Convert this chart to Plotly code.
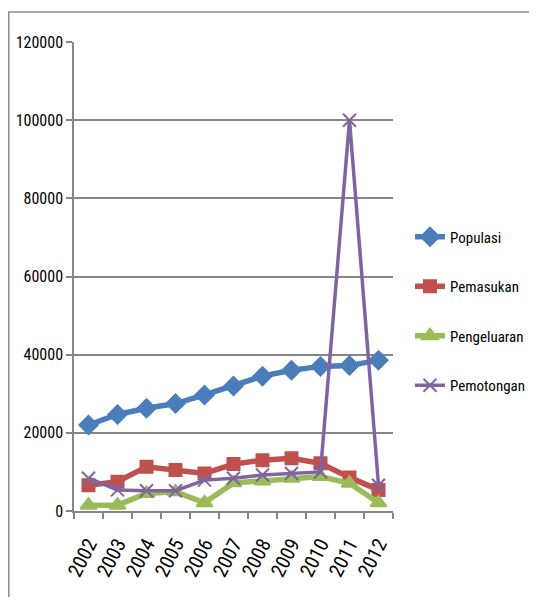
import plotly.graph_objects as go

years = ["2002", "2003", "2004", "2005", "2006", "2007", "2008", "2009", "2010", "2011", "2012"]
populasi = [22000, 24700, 26300, 27500, 29700, 32000, 34500, 36000, 37000, 37200, 38600]
pemasukan = [6600, 7500, 11300, 10500, 9600, 12000, 13000, 13500, 12200, 8600, 5400]
pengeluaran = [1500, 1500, 4500, 4900, 2100, 7200, 7700, 8400, 8800, 7100, 2100]
pemotongan = [8400, 5400, 5200, 5200, 7900, 8400, 9200, 9600, 10000, 100000, 6600]

y_ticks = [0, 20000, 40000, 60000, 80000, 100000, 120000]

FONT = "Liberation Sans Narrow, Arial Narrow, Roboto Condensed, sans-serif"

series = [
    ("Populasi", populasi, "#4A7EBB", "diamond", 14, 5.5),
    ("Pemasukan", pemasukan, "#C0504D", "square", 12, 5.5),
    ("Pengeluaran", pengeluaran, "#9BBB59", "triangle-up", 14, 5.5),
    ("Pemotongan", pemotongan, "#8064A2", "x-thin-open", 13, 3.5),
]

fig = go.Figure()
for i, (name, vals, color, sym, msize, lw) in enumerate(series):
    fig.add_trace(go.Scatter(
        x=years, y=vals, name=name, mode="lines+markers",
        line=dict(color=color, width=lw),
        marker=dict(symbol=sym, size=msize, color=color,
                    line=dict(color=color, width=2)),
        legendgroup=f"g{i}",
    ))

# page has an 8px body margin; figure coordinates = page coordinates - 8
OFF = 8
W, H = 537 - 2 * OFF, 605 - 2 * OFF
L, R, T, B = 74 - OFF, 393 - OFF, 42 - OFF, 511 - OFF
pw, ph = R - L, B - T

def px(x):
    return (x - L) / pw

def py(y):
    return (B - y) / ph

fig.add_shape(type="path", xref="paper", yref="paper",
              path=f"M {px(0.8)} {py(H + 10)} L {px(0.8)} {py(12 - OFF)} L {px(W + 10)} {py(12 - OFF)}",
              line=dict(color="#8C8C8C", width=1.5))

fig.update_layout(
    width=W, height=H,
    margin=dict(l=L, r=W - R, t=T, b=H - B, autoexpand=False),
    paper_bgcolor="white", plot_bgcolor="white",
    font=dict(family=FONT, size=16, color="#000000"),
    showlegend=True,
    legend=dict(x=px(410 - OFF), y=py(220.5 - OFF), xanchor="left", yanchor="top",
                font=dict(family=FONT, size=15, color="#000000"),
                tracegroupgap=27, bgcolor="rgba(0,0,0,0)",
                itemwidth=30),
    xaxis=dict(
        type="category", showgrid=False, showline=True,
        linecolor="#868686", linewidth=1.5,
        ticks="outside", ticklen=6, tickcolor="#868686", tickwidth=1.5,
        tickson="boundaries", tickangle=-63, ticklabelstandoff=12,
        tickfont=dict(family=FONT, size=20, color="#000000"),
        range=[-0.5, 10.5],
    ),
    yaxis=dict(
        range=[0, 120000], tickvals=y_ticks,
        ticktext=[str(v) for v in y_ticks],
        showgrid=True, gridcolor="#868686", gridwidth=1.5,
        showline=True, linecolor="#868686", linewidth=1.5,
        ticks="outside", ticklen=6, tickcolor="#868686", tickwidth=1.5,
        tickfont=dict(family=FONT, size=16, color="#000000"),
        zeroline=False,
    ),
)

fig.write_html("out.html")
